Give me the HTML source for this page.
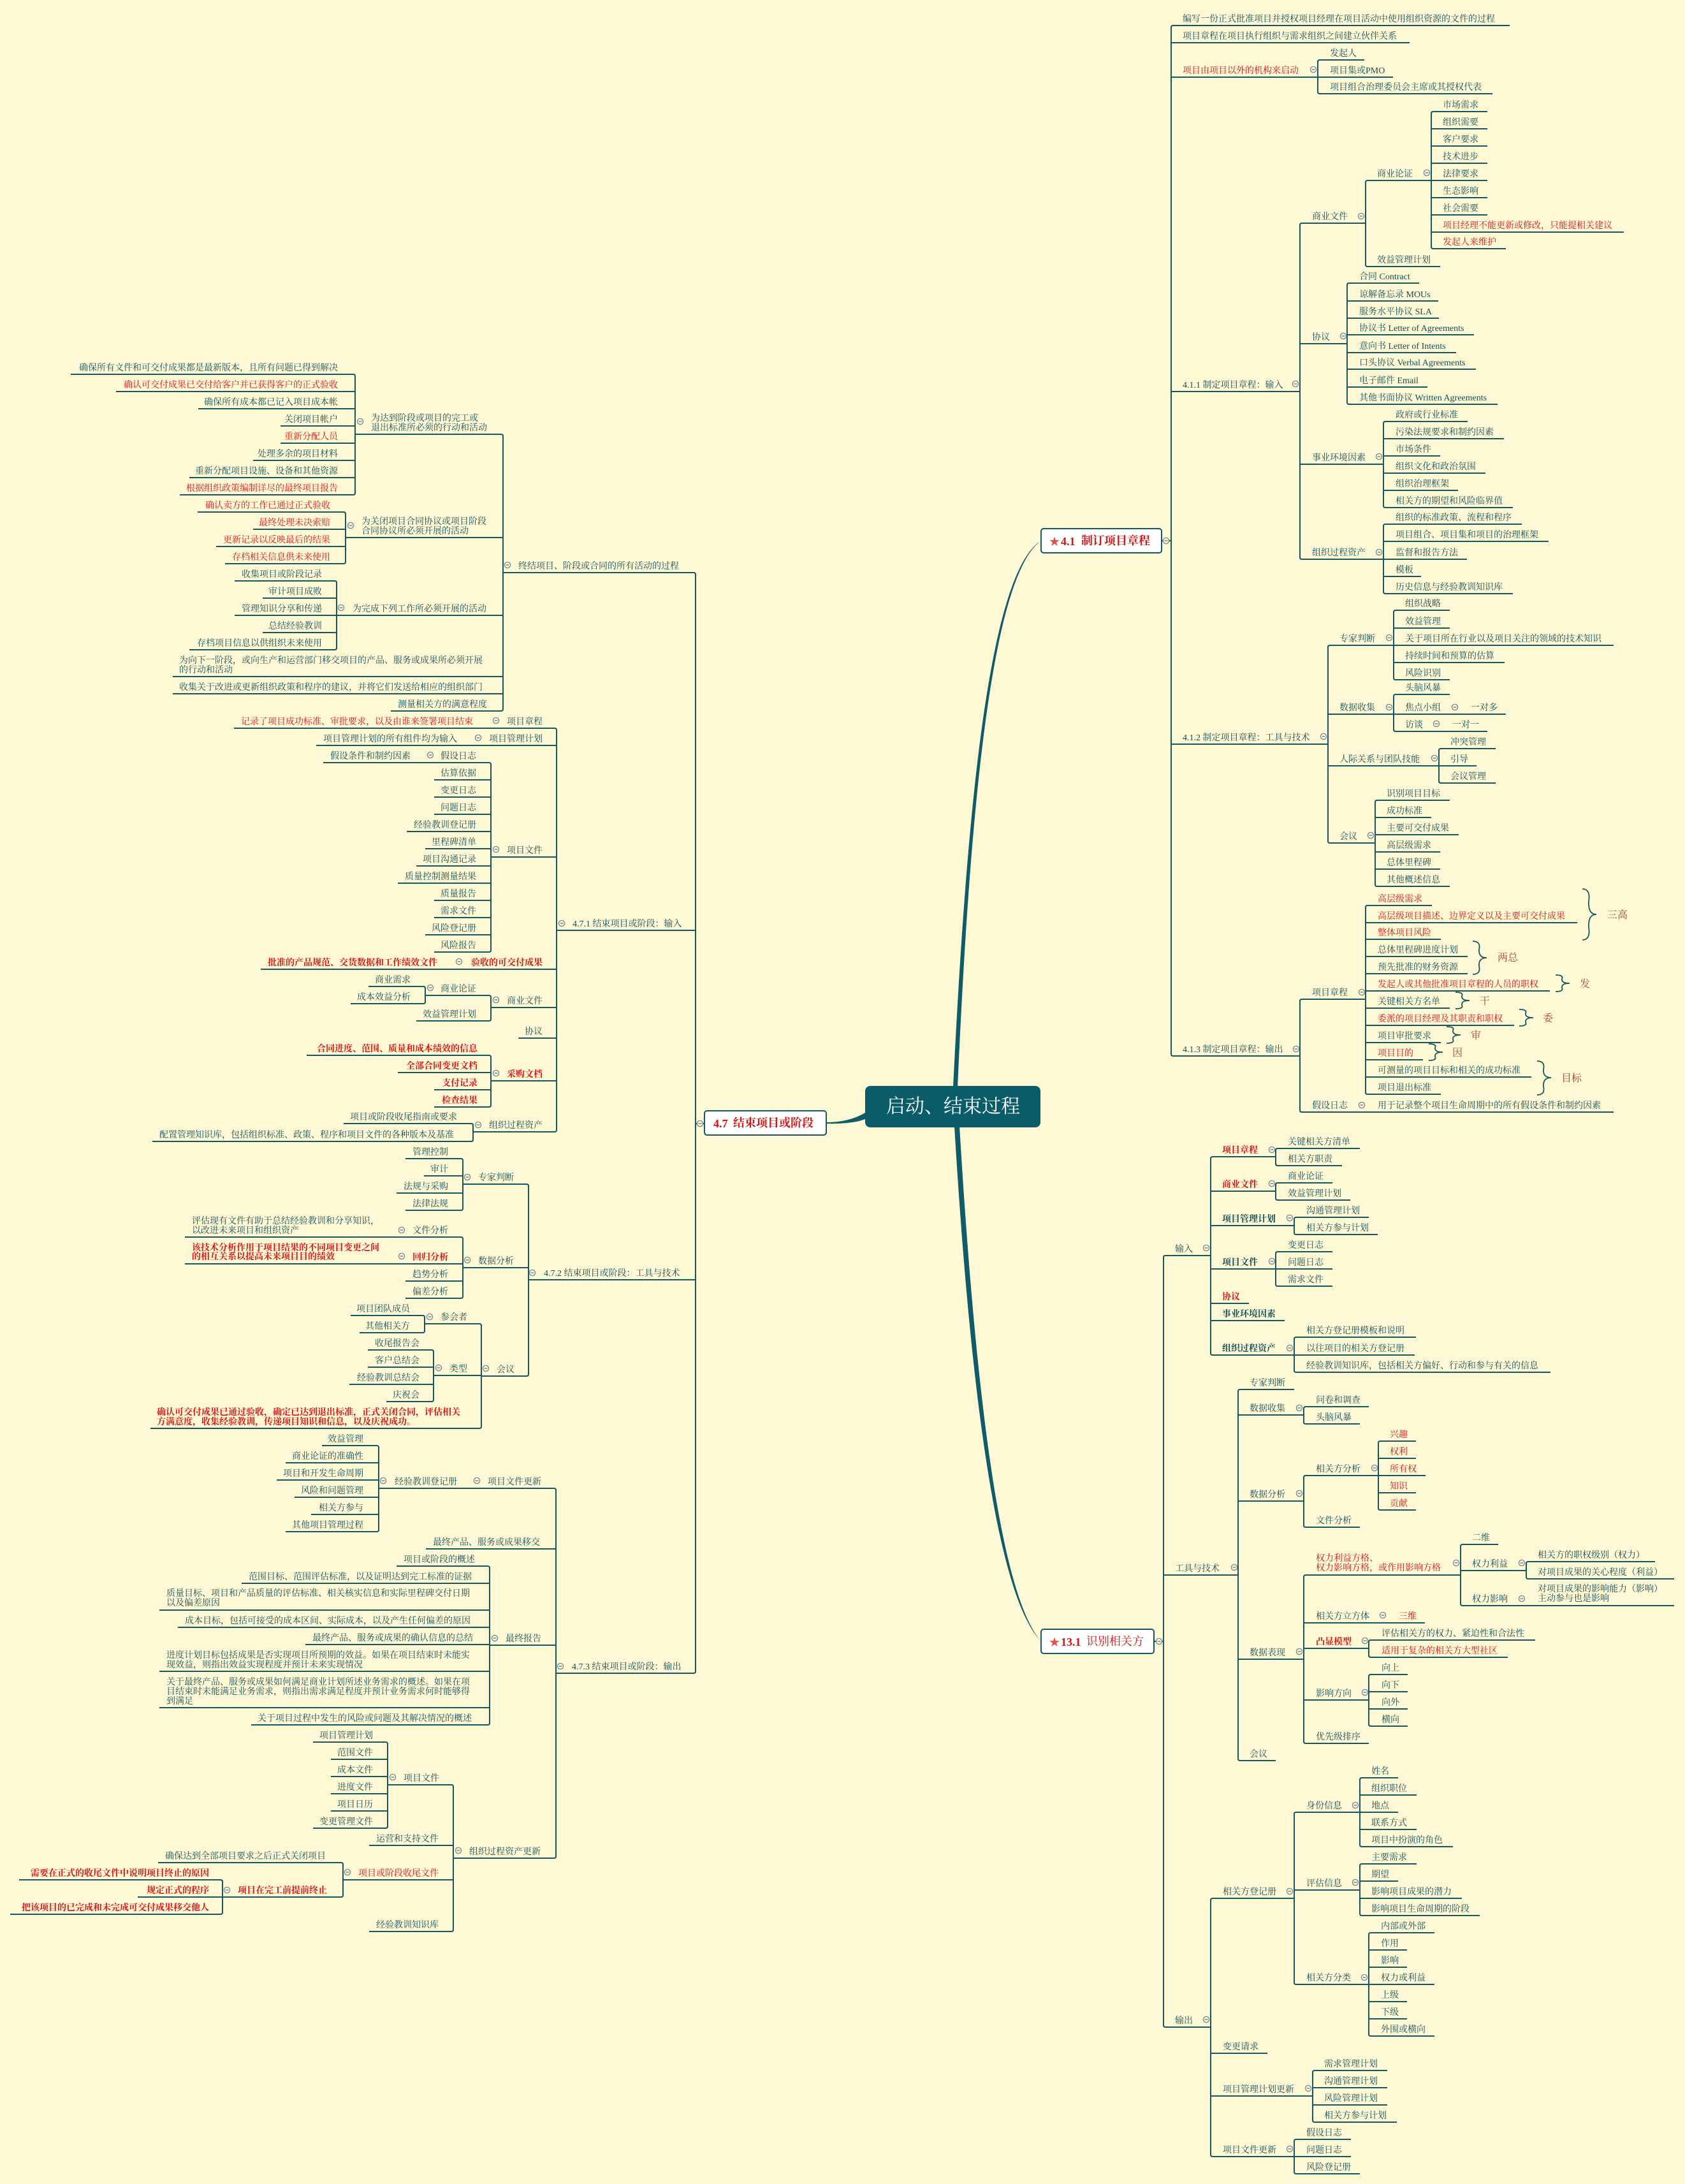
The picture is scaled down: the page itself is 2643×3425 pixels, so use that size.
<!DOCTYPE html>
<html><head><meta charset="utf-8"><style>
html,body{margin:0;padding:0;background:#fff8d5}
svg{display:block}
text{font-family:"Liberation Serif","Noto Serif CJK SC",serif;font-size:14px;fill:#104f58}
.e text,text.e{text-anchor:end}
.r,.r text{fill:#e01010}
.b,.b text{font-weight:bold}
.l text{font-size:16px;fill:#a8452e}
.t{font-size:30px;fill:#fff;text-anchor:middle}
.n{font-size:18px;fill:#e01010;font-weight:bold}
</style></head><body>
<svg xmlns="http://www.w3.org/2000/svg" width="2643" height="3425" viewBox="0 0 2643 3425">
<defs><g id="m"><circle r="4.6" fill="#fff8d5" stroke="#6d8a9a" stroke-width="1.3"/><path d="M-2.5 0H2.5" stroke="#55707f" stroke-width="1.2"/></g></defs>
<rect width="2643" height="3425" fill="#fff8d5"/>

<!-- central connectors -->
<path fill="#0e5c68" d="M1495 1705C1515 1300 1548 900 1633 848C1552 905 1520 1300 1502 1705ZM1497 1766C1520 2150 1560 2500 1633 2574C1565 2497 1528 2150 1505 1766ZM1357 1745C1340 1755 1320 1760 1296 1760V1762C1320 1763 1345 1760 1357 1755Z"/>

<!-- lines -->
<path fill="none" stroke="#14575f" stroke-width="2" d="
M1822 848H1837M1810 2574H1825M1091 1762H1105
M2368 40H1840q-3 0-3 3V1653q0 3 3 3H2039M1837 67H2211M1837 121H2067M1837 614H2039M1837 1167H2083
M2140 94H2070q-3 0-3 3V144q0 3 3 3H2341M2067 121H2185
M2142 350H2042q-3 0-3 3V874q0 3 3 3H2170M2039 539H2113M2039 728H2170
M2245 283H2145q-3 0-3 3V415q0 3 3 3H2259
M2333 175H2248q-3 0-3 3V387q0 3 3 3H2362M2245 202H2333M2245 229H2333M2245 256H2333M2245 283H2333M2245 310H2333M2245 337H2333M2245 364H2547
M2226 444H2116q-3 0-3 3V631q0 3 3 3H2349M2113 472H2256M2113 499H2257M2113 525H2312M2113 553H2284M2113 579H2315M2113 607H2239
M2302 661H2173q-3 0-3 3V793q0 3 3 3H2373M2170 688H2359M2170 715H2259M2170 742H2330M2170 769H2287
M2387 822H2173q-3 0-3 3V928q0 3 3 3H2373M2170 849H2429M2170 877H2301M2170 904H2229
M2186 1012H2086q-3 0-3 3V1319q0 3 3 3H2157M2083 1120H2186M2083 1201H2257
M2274 957H2189q-3 0-3 3V1063q0 3 3 3H2274M2186 985H2274M2186 1012H2531M2186 1039H2360
M2274 1089H2189q-3 0-3 3V1144q0 3 3 3H2333M2186 1120H2362
M2346 1174H2260q-3 0-3 3V1225q0 3 3 3H2346M2257 1201H2316
M2274 1255H2160q-3 0-3 3V1387q0 3 3 3H2274M2157 1282H2245M2157 1309H2288M2157 1336H2259M2157 1363H2259
M2142 1567H2042q-3 0-3 3V1741q0 3 3 3H2531
M2246 1420H2145q-3 0-3 3V1713q0 3 3 3H2260M2142 1447H2474M2142 1473H2260M2142 1500H2302M2142 1527H2302M2142 1554H2431M2142 1581H2274M2142 1608H2375M2142 1635H2260M2142 1662H2232M2142 1689H2402
M1899 1969H1828q-3 0-3 3V3176q0 3 3 3H1899M1825 2470H1942
M2001 1814H1902q-3 0-3 3V2122q0 3 3 3H2030M1899 1868H2001M1899 1922H2030M1899 1990H2001M1899 2044H1959M1899 2071H2015
M2133 1801H2004q-3 0-3 3V1825q0 3 3 3H2105
M2090 1855H2004q-3 0-3 3V1879q0 3 3 3H2118
M2147 1909H2033q-3 0-3 3V1933q0 3 3 3H2161
M2090 1963H2004q-3 0-3 3V2014q0 3 3 3H2090M2001 1990H2090
M2221 2097H2033q-3 0-3 3V2149q0 3 3 3H2432M2030 2125H2219
M2030 2179H1945q-3 0-3 3V2758q0 3 3 3H2001M1942 2219H2045M1942 2354H2045M1942 2602H2045
M2147 2206H2048q-3 0-3 3V2230q0 3 3 3H2133
M2162 2314H2048q-3 0-3 3V2392q0 3 3 3H2133
M2221 2260H2165q-3 0-3 3V2365q0 3 3 3H2221M2162 2287H2221M2162 2314H2236M2162 2341H2221
M2291 2470H2048q-3 0-3 3V2731q0 3 3 3H2147M2045 2545H2235M2045 2585H2147M2045 2666H2147
M2350 2422H2294q-3 0-3 3V2515q0 3 3 3H2626M2291 2463H2394
M2596 2449H2397q-3 0-3 3V2473q0 3 3 3H2626
M2408 2572H2150q-3 0-3 3V2596q0 3 3 3H2365
M2208 2626H2150q-3 0-3 3V2704q0 3 3 3H2208M2147 2653H2208M2147 2680H2208
M2030 2977H1902q-3 0-3 3V3379q0 3 3 3H2030M1899 3220H1988M1899 3287H2059
M2133 2842H2033q-3 0-3 3V3109q0 3 3 3H2147M2030 2964H2133
M2193 2788H2136q-3 0-3 3V2893q0 3 3 3H2279M2133 2815H2222M2133 2842H2193M2133 2869H2222
M2222 2923H2136q-3 0-3 3V3001q0 3 3 3H2321M2133 2950H2193M2133 2977H2293
M2250 3031H2150q-3 0-3 3V3190q0 3 3 3H2250M2147 3058H2207M2147 3085H2207M2147 3112H2250M2147 3139H2207M2147 3166H2207
M2176 3247H2062q-3 0-3 3V3325q0 3 3 3H2191M2059 3274H2176M2059 3301H2176
M2119 3355H2033q-3 0-3 3V3406q0 3 3 3H2133M2030 3382H2119
M789 898H1088q3 0 3 3V2621q0 3-3 3H872M1091 1459H873M1091 2007H829
M557 681H786q3 0 3 3V1112q0 3-3 3H613M789 843H542M789 965H528M789 1061H271M789 1088H271
M111 587H554q3 0 3 3V773q0 3-3 3H282M557 614H182M557 641H311M557 668H440M557 695H440M557 722H397M557 749H297
M310 803H539q3 0 3 3V881q0 3-3 3H353M542 830H397M542 857H339
M368 911H525q3 0 3 3V1016q0 3-3 3H297M528 938H412M528 965H368M528 992H412
M367 1142H870q3 0 3 3V1772q0 3-3 3H742M873 1169H496M873 1344H770M873 1520H409M873 1580H770M873 1628H813M873 1695H770
M507 1196H767q3 0 3 3V1490q0 3-3 3H681M770 1223H681M770 1250H681M770 1277H681M770 1304H638M770 1331H667M770 1358H653M770 1385H624M770 1412H681M770 1439H681M770 1466H667
M667 1561H767q3 0 3 3V1598q0 3-3 3H653
M578 1547H664q3 0 3 3V1571q0 3-3 3H550
M481 1655H767q3 0 3 3V1733q0 3-3 3H681M770 1682H624M770 1709H681
M539 1762H739q3 0 3 3V1787q0 3-3 3H239
M726 1857H826q3 0 3 3V2155q0 3-3 3H755M829 1988H726
M636 1817H723q3 0 3 3V1895q0 3-3 3H636M726 1844H665M726 1871H622
M290 1940H723q3 0 3 3V2033q0 3-3 3H636M726 1982H290M726 2009H636
M666 2076H752q3 0 3 3V2237q0 3-3 3H236M755 2157H680
M550 2063H663q3 0 3 3V2087q0 3-3 3H564
M577 2117H677q3 0 3 3V2195q0 3-3 3H606M680 2144H577M680 2171H548
M594 2334H869q3 0 3 3V2911q0 3-3 3H711M872 2429H668M872 2580H768
M505 2267H591q3 0 3 3V2399q0 3-3 3H448M594 2294H448M594 2321H434M594 2348H462M594 2375H488
M622 2456H765q3 0 3 3V2702q0 3-3 3H394M768 2483H379M768 2525H250M768 2552H279M768 2579H479M768 2621H250M768 2678H250
M608 2799H708q3 0 3 3V3026q0 3-3 3H579M711 2894H579M711 2948H538
M491 2732H605q3 0 3 3V2864q0 3-3 3H491M608 2759H519M608 2786H519M608 2813H519M608 2840H519
M248 2921H535q3 0 3 3V2972q0 3-3 3H349
M30 2948H346q3 0 3 3V2999q0 3-3 3H16M349 2975H216
"/>

<!-- braces -->
<path fill="none" stroke="#14575f" stroke-width="1.8" d="
M2482 1394Q2495 1394 2492 1414Q2491 1434 2504 1434Q2491 1434 2492 1454Q2495 1474 2482 1474
M2310 1476Q2323 1476 2320 1489Q2319 1502 2332 1502Q2319 1502 2320 1515Q2323 1528 2310 1528
M2440 1529Q2453 1529 2450 1535Q2449 1542 2462 1542Q2449 1542 2450 1549Q2453 1555 2440 1555
M2283 1556Q2296 1556 2293 1562Q2292 1569 2305 1569Q2292 1569 2293 1576Q2296 1582 2283 1582
M2383 1583Q2396 1583 2393 1589Q2392 1596 2405 1596Q2392 1596 2393 1603Q2396 1609 2383 1609
M2269 1610Q2282 1610 2279 1616Q2278 1623 2291 1623Q2278 1623 2279 1630Q2282 1636 2269 1636
M2241 1637Q2254 1637 2251 1643Q2250 1650 2263 1650Q2250 1650 2251 1657Q2254 1663 2241 1663
M2411 1664Q2424 1664 2421 1677Q2420 1690 2433 1690Q2420 1690 2421 1704Q2424 1717 2411 1717
"/>
<g class="l">
<text x="2521" y="1440">三高</text><text x="2349" y="1507">两总</text><text x="2478" y="1548">发</text><text x="2321" y="1575">干</text><text x="2420" y="1602">委</text><text x="2307" y="1629">审</text><text x="2278" y="1656">因</text><text x="2449" y="1696">目标</text>
</g>

<!-- main nodes -->
<rect x="1357" y="1703" width="275" height="65" rx="8" fill="#0a5c68"/>
<text class="t" x="1495" y="1745">启动、结束过程</text>
<rect x="1105" y="1742" width="191" height="38" rx="4" fill="#fff" stroke="#14575f" stroke-width="2"/>
<text class="n" x="1119" y="1768">4.7</text><text class="n" x="1150" y="1767">结束项目或阶段</text>
<rect x="1633" y="829" width="189" height="38" rx="4" fill="#fff" stroke="#14575f" stroke-width="2"/>
<text x="1645" y="856" style="font-family:'DejaVu Sans',sans-serif;font-size:20px;fill:#e05050">★</text>
<text class="n" x="1664" y="855">4.1</text><text class="n" x="1696" y="854">制订项目章程</text>
<rect x="1633" y="2555" width="177" height="38" rx="4" fill="#fff" stroke="#14575f" stroke-width="2"/>
<text x="1645" y="2582" style="font-family:'DejaVu Sans',sans-serif;font-size:20px;fill:#e05050">★</text>
<text class="n" x="1664" y="2581">13.1</text><text class="n" x="1704" y="2580" style="font-weight:normal">识别相关方</text>

<!-- 4.1 text -->
<text x="1855" y="34">编写一份正式批准项目并授权项目经理在项目活动中使用组织资源的文件的过程</text>
<text x="1855" y="61">项目章程在项目执行组织与需求组织之间建立伙伴关系</text>
<text class="r" x="1855" y="115">项目由项目以外的机构来启动</text>
<text x="2086" y="88">发起人</text><text x="2086" y="115">项目集或PMO</text><text x="2086" y="141">项目组合治理委员会主席或其授权代表</text>
<text x="1855" y="608">4.1.1 制定项目章程：输入</text>
<text x="2058" y="344">商业文件</text><text x="2058" y="533">协议</text><text x="2058" y="722">事业环境因素</text><text x="2058" y="871">组织过程资产</text>
<text x="2160" y="277">商业论证</text><text x="2160" y="412">效益管理计划</text>
<text x="2263" y="169">市场需求</text><text x="2263" y="196">组织需要</text><text x="2263" y="223">客户要求</text><text x="2263" y="250">技术进步</text><text x="2263" y="277">法律要求</text><text x="2263" y="304">生态影响</text><text x="2263" y="331">社会需要</text>
<text class="r" x="2263" y="358">项目经理不能更新或修改，只能提相关建议</text><text class="r" x="2263" y="384">发起人来维护</text>
<text x="2132" y="438">合同 Contract</text><text x="2132" y="466">谅解备忘录 MOUs</text><text x="2132" y="493">服务水平协议 SLA</text><text x="2132" y="519">协议书 Letter of Agreements</text><text x="2132" y="547">意向书 Letter of Intents</text><text x="2132" y="573">口头协议 Verbal Agreements</text><text x="2132" y="601">电子邮件 Email</text><text x="2132" y="628">其他书面协议 Written Agreements</text>
<text x="2189" y="655">政府或行业标准</text><text x="2189" y="682">污染法规要求和制约因素</text><text x="2189" y="709">市场条件</text><text x="2189" y="736">组织文化和政治氛围</text><text x="2189" y="763">组织治理框架</text><text x="2189" y="790">相关方的期望和风险临界值</text>
<text x="2189" y="816">组织的标准政策、流程和程序</text><text x="2189" y="843">项目组合、项目集和项目的治理框架</text><text x="2189" y="871">监督和报告方法</text><text x="2189" y="898">模板</text><text x="2189" y="925">历史信息与经验教训知识库</text>
<text x="1855" y="1161">4.1.2 制定项目章程：工具与技术</text>
<text x="2101" y="1006">专家判断</text><text x="2101" y="1114">数据收集</text><text x="2101" y="1195">人际关系与团队技能</text><text x="2101" y="1316">会议</text>
<text x="2204" y="951">组织战略</text><text x="2204" y="979">效益管理</text><text x="2204" y="1006">关于项目所在行业以及项目关注的领域的技术知识</text><text x="2204" y="1033">持续时间和预算的估算</text><text x="2204" y="1060">风险识别</text>
<text x="2204" y="1083">头脑风暴</text><text x="2204" y="1114">焦点小组</text><text x="2204" y="1141">访谈</text><text x="2307" y="1114">一对多</text><text x="2278" y="1141">一对一</text>
<text x="2275" y="1168">冲突管理</text><text x="2275" y="1195">引导</text><text x="2275" y="1222">会议管理</text>
<text x="2175" y="1249">识别项目目标</text><text x="2175" y="1276">成功标准</text><text x="2175" y="1303">主要可交付成果</text><text x="2175" y="1330">高层级需求</text><text x="2175" y="1357">总体里程碑</text><text x="2175" y="1384">其他概述信息</text>
<text x="1855" y="1650">4.1.3 制定项目章程：输出</text>
<text x="2058" y="1561">项目章程</text><text x="2058" y="1738">假设日志</text><text x="2161" y="1738">用于记录整个项目生命周期中的所有假设条件和制约因素</text>
<text class="r" x="2161" y="1414">高层级需求</text><text class="r" x="2161" y="1441">高层级项目描述、边界定义以及主要可交付成果</text><text class="r" x="2161" y="1467">整体项目风险</text><text x="2161" y="1494">总体里程碑进度计划</text><text x="2161" y="1521">预先批准的财务资源</text><text class="r" x="2161" y="1548">发起人或其他批准项目章程的人员的职权</text><text x="2161" y="1575">关键相关方名单</text><text class="r" x="2161" y="1602">委派的项目经理及其职责和职权</text><text x="2161" y="1629">项目审批要求</text><text class="r" x="2161" y="1656">项目目的</text><text x="2161" y="1683">可测量的项目目标和相关的成功标准</text><text x="2161" y="1710">项目退出标准</text>

<!-- 13.1 text -->
<text x="1843" y="1963">输入</text><text x="1843" y="2464">工具与技术</text><text x="1843" y="3173">输出</text>
<g class="b"><text class="r" x="1917" y="1808">项目章程</text><text class="r" x="1917" y="1862">商业文件</text><text x="1917" y="1916">项目管理计划</text><text x="1917" y="1984">项目文件</text><text class="r" x="1917" y="2038">协议</text><text x="1917" y="2065">事业环境因素</text><text x="1917" y="2119">组织过程资产</text></g>
<text x="2020" y="1795">关键相关方清单</text><text x="2020" y="1822">相关方职责</text><text x="2020" y="1849">商业论证</text><text x="2020" y="1876">效益管理计划</text>
<text x="2049" y="1903">沟通管理计划</text><text x="2049" y="1930">相关方参与计划</text>
<text x="2020" y="1957">变更日志</text><text x="2020" y="1984">问题日志</text><text x="2020" y="2011">需求文件</text>
<text x="2049" y="2091">相关方登记册模板和说明</text><text x="2049" y="2119">以往项目的相关方登记册</text><text x="2049" y="2146">经验教训知识库，包括相关方偏好、行动和参与有关的信息</text>
<text x="1960" y="2173">专家判断</text><text x="1960" y="2213">数据收集</text><text x="1960" y="2348">数据分析</text><text x="1960" y="2596">数据表现</text><text x="1960" y="2755">会议</text>
<text x="2064" y="2200">问卷和调查</text><text x="2064" y="2227">头脑风暴</text><text x="2064" y="2308">相关方分析</text><text x="2064" y="2389">文件分析</text>
<g class="r"><text x="2180" y="2254">兴趣</text><text x="2180" y="2281">权利</text><text x="2180" y="2308">所有权</text><text x="2180" y="2335">知识</text><text x="2180" y="2362">贡献</text>
<text x="2064" y="2448">权力利益方格、</text><text x="2064" y="2463">权力影响方格，或作用影响方格</text><text x="2194" y="2539">三维</text><text class="b" x="2064" y="2579">凸显模型</text><text x="2167" y="2593">适用于复杂的相关方大型社区</text></g>
<text x="2064" y="2539">相关方立方体</text><text x="2064" y="2660">影响方向</text><text x="2064" y="2728">优先级排序</text>
<text x="2309" y="2416">二维</text><text x="2309" y="2457">权力利益</text><text x="2309" y="2512">权力影响</text>
<text x="2412" y="2443">相关方的职权级别（权力）</text><text x="2412" y="2470">对项目成果的关心程度（利益）</text><text x="2412" y="2496">对项目成果的影响能力（影响）</text><text x="2412" y="2511">主动参与也是影响</text>
<text x="2167" y="2566">评估相关方的权力、紧迫性和合法性</text><text x="2167" y="2620">向上</text><text x="2167" y="2647">向下</text><text x="2167" y="2674">向外</text><text x="2167" y="2701">横向</text>
<text x="1918" y="2971">相关方登记册</text><text x="1918" y="3214">变更请求</text><text x="1918" y="3281">项目管理计划更新</text><text x="1918" y="3376">项目文件更新</text>
<text x="2049" y="2836">身份信息</text><text x="2049" y="2958">评估信息</text><text x="2049" y="3106">相关方分类</text>
<text x="2151" y="2782">姓名</text><text x="2151" y="2809">组织职位</text><text x="2151" y="2836">地点</text><text x="2151" y="2863">联系方式</text><text x="2151" y="2890">项目中扮演的角色</text>
<text x="2151" y="2917">主要需求</text><text x="2151" y="2944">期望</text><text x="2151" y="2971">影响项目成果的潜力</text><text x="2151" y="2998">影响项目生命周期的阶段</text>
<text x="2166" y="3025">内部或外部</text><text x="2166" y="3052">作用</text><text x="2166" y="3079">影响</text><text x="2166" y="3106">权力或利益</text><text x="2166" y="3133">上级</text><text x="2166" y="3160">下级</text><text x="2166" y="3187">外围或横向</text>
<text x="2077" y="3241">需求管理计划</text><text x="2077" y="3268">沟通管理计划</text><text x="2077" y="3295">风险管理计划</text><text x="2077" y="3322">相关方参与计划</text>
<text x="2049" y="3349">假设日志</text><text x="2049" y="3376">问题日志</text><text x="2049" y="3403">风险登记册</text>

<!-- 4.7 text -->
<text x="813" y="892">终结项目、阶段或合同的所有活动的过程</text>
<text x="582" y="660">为达到阶段或项目的完工或</text><text x="582" y="675">退出标准所必须的行动和活动</text>
<g class="e"><text x="530" y="581">确保所有文件和可交付成果都是最新版本，且所有问题已得到解决</text><text class="r" x="530" y="608">确认可交付成果已交付给客户并已获得客户的正式验收</text><text x="530" y="635">确保所有成本都已记入项目成本帐</text><text x="530" y="662">关闭项目帐户</text><text class="r" x="530" y="689">重新分配人员</text><text x="530" y="716">处理多余的项目材料</text><text x="530" y="743">重新分配项目设施、设备和其他资源</text><text class="r" x="530" y="770">根据组织政策编制详尽的最终项目报告</text></g>
<text x="567" y="822">为关闭项目合同协议或项目阶段</text><text x="567" y="837">合同协议所必须开展的活动</text>
<g class="e r"><text x="518" y="797">确认卖方的工作已通过正式验收</text><text x="518" y="824">最终处理未决索赔</text><text x="518" y="851">更新记录以反映最后的结果</text><text x="518" y="878">存档相关信息供未来使用</text></g>
<text x="553" y="959">为完成下列工作所必须开展的活动</text>
<g class="e"><text x="505" y="905">收集项目或阶段记录</text><text x="505" y="932">审计项目成败</text><text x="505" y="959">管理知识分享和传递</text><text x="505" y="986">总结经验教训</text><text x="505" y="1013">存档项目信息以供组织未来使用</text></g>
<text x="281" y="1040">为向下一阶段，或向生产和运营部门移交项目的产品、服务或成果所必须开展</text><text x="281" y="1055">的行动和活动</text><text x="281" y="1082">收集关于改进或更新组织政策和程序的建议，并将它们发送给相应的组织部门</text>
<text x="624" y="1109">测量相关方的满意程度</text>
<text x="898" y="1453">4.7.1 结束项目或阶段：输入</text>
<g class="e"><text x="851" y="1136">项目章程</text><text x="851" y="1163">项目管理计划</text><text x="851" y="1338">项目文件</text><text class="r b" x="851" y="1514">验收的可交付成果</text><text x="851" y="1574">商业文件</text><text x="851" y="1622">协议</text><text class="r b" x="851" y="1689">采购文档</text><text x="851" y="1769">组织过程资产</text></g>
<text class="r" x="378" y="1136">记录了项目成功标准、审批要求，以及由谁来签署项目结束</text>
<text x="507" y="1163">项目管理计划的所有组件均为输入</text>
<g class="e"><text x="747" y="1190">假设日志</text><text x="747" y="1217">估算依据</text><text x="747" y="1244">变更日志</text><text x="747" y="1271">问题日志</text><text x="747" y="1298">经验教训登记册</text><text x="747" y="1325">里程碑清单</text><text x="747" y="1352">项目沟通记录</text><text x="747" y="1379">质量控制测量结果</text><text x="747" y="1406">质量报告</text><text x="747" y="1433">需求文件</text><text x="747" y="1460">风险登记册</text><text x="747" y="1487">风险报告</text>
<text x="747" y="1555">商业论证</text><text x="747" y="1595">效益管理计划</text><text x="644" y="1541">商业需求</text><text x="644" y="1568">成本效益分析</text><text x="717" y="1756">项目或阶段收尾指南或要求</text></g>
<text x="518" y="1190">假设条件和制约因素</text>
<text class="r b" x="420" y="1514">批准的产品规范、交货数据和工作绩效文件</text>
<g class="e r b"><text x="749" y="1649">合同进度、范围、质量和成本绩效的信息</text><text x="749" y="1676">全部合同变更文档</text><text x="749" y="1703">支付记录</text><text x="749" y="1730">检查结果</text></g>
<text x="250" y="1784">配置管理知识库，包括组织标准、政策、程序和项目文件的各种版本及基准</text>
<text x="853" y="2001">4.7.2 结束项目或阶段：工具与技术</text>
<text x="750" y="1851">专家判断</text><text x="750" y="1982">数据分析</text><text x="779" y="2152">会议</text>
<g class="e"><text x="703" y="1811">管理控制</text><text x="703" y="1838">审计</text><text x="703" y="1865">法规与采购</text><text x="703" y="1892">法律法规</text><text x="703" y="1934">文件分析</text><text class="r b" x="703" y="1976">回归分析</text><text x="703" y="2003">趋势分析</text><text x="703" y="2030">偏差分析</text>
<text x="643" y="2057">项目团队成员</text><text x="643" y="2084">其他相关方</text><text x="658" y="2111">收尾报告会</text><text x="658" y="2138">客户总结会</text><text x="658" y="2165">经验教训总结会</text><text x="658" y="2192">庆祝会</text></g>
<text x="301" y="1919">评估现有文件有助于总结经验教训和分享知识，</text><text x="301" y="1934">以改进未来项目和组织资产</text>
<g class="r b"><text x="301" y="1961">该技术分析作用于项目结果的不同项目变更之间</text><text x="301" y="1975">的相互关系以提高未来项目目的绩效</text>
<text x="246" y="2219">确认可交付成果已通过验收，确定已达到退出标准，正式关闭合同，评估相关</text><text x="246" y="2234">方满意度，收集经验教训，传递项目知识和信息，以及庆祝成功。</text></g>
<text x="691" y="2070">参会者</text><text x="705" y="2151">类型</text>
<text x="897" y="2618">4.7.3 结束项目或阶段：输出</text>
<text x="765" y="2328">项目文件更新</text><text x="619" y="2328">经验教训登记册</text><text x="679" y="2423">最终产品、服务或成果移交</text><text x="793" y="2574">最终报告</text>
<g class="e"><text x="570" y="2261">效益管理</text><text x="570" y="2288">商业论证的准确性</text><text x="570" y="2315">项目和开发生命周期</text><text x="570" y="2342">风险和问题管理</text><text x="570" y="2369">相关方参与</text><text x="570" y="2396">其他项目管理过程</text></g>
<text x="633" y="2450">项目或阶段的概述</text><text x="390" y="2477">范围目标、范围评估标准，以及证明达到完工标准的证据</text>
<text x="261" y="2503">质量目标、项目和产品质量的评估标准、相关核实信息和实际里程碑交付日期</text><text x="261" y="2518">以及偏差原因</text>
<text x="290" y="2546">成本目标，包括可接受的成本区间、实际成本，以及产生任何偏差的原因</text><text x="490" y="2573">最终产品、服务或成果的确认信息的总结</text>
<text x="261" y="2600">进度计划目标包括成果是否实现项目所预期的效益。如果在项目结束时未能实</text><text x="261" y="2615">现效益，则指出效益实现程度并预计未来实现情况</text>
<text x="261" y="2642">关于最终产品、服务或成果如何满足商业计划所述业务需求的概述。如果在项</text><text x="261" y="2657">目结束时未能满足业务需求，则指出需求满足程度并预计业务需求何时能够得</text><text x="261" y="2672">到满足</text>
<text x="404" y="2699">关于项目过程中发生的风险或问题及其解决情况的概述</text>
<text x="736" y="2908">组织过程资产更新</text><text x="633" y="2793">项目文件</text><text x="590" y="2888">运营和支持文件</text><text class="r" x="562" y="2942">项目或阶段收尾文件</text><text x="590" y="3023">经验教训知识库</text>
<g class="e"><text x="585" y="2726">项目管理计划</text><text x="585" y="2753">范围文件</text><text x="585" y="2780">成本文件</text><text x="585" y="2807">进度文件</text><text x="585" y="2834">项目日历</text><text x="585" y="2861">变更管理文件</text></g>
<text x="259" y="2915">确保达到全部项目要求之后正式关闭项目</text><text class="r b" x="373" y="2969">项目在完工前提前终止</text>
<g class="e r b"><text x="328" y="2942">需要在正式的收尾文件中说明项目终止的原因</text><text x="328" y="2969">规定正式的程序</text><text x="328" y="2996">把该项目的已完成和未完成可交付成果移交他人</text></g>

<!-- collapse markers -->
<use href="#m" x="1829" y="848"/><use href="#m" x="1818" y="2574"/><use href="#m" x="1098" y="1762"/>
<use href="#m" x="2060" y="109"/><use href="#m" x="2032" y="602"/><use href="#m" x="2135" y="339"/><use href="#m" x="2107" y="527"/><use href="#m" x="2163" y="716"/><use href="#m" x="2163" y="866"/><use href="#m" x="2238" y="271"/>
<use href="#m" x="2076" y="1155"/><use href="#m" x="2179" y="1000"/><use href="#m" x="2179" y="1109"/><use href="#m" x="2250" y="1189"/><use href="#m" x="2150" y="1310"/><use href="#m" x="2282" y="1109"/><use href="#m" x="2253" y="1135"/>
<use href="#m" x="2033" y="1645"/><use href="#m" x="2136" y="1556"/><use href="#m" x="2136" y="1733"/>
<use href="#m" x="1892" y="1957"/><use href="#m" x="1936" y="2458"/><use href="#m" x="1892" y="3167"/>
<use href="#m" x="1995" y="1803"/><use href="#m" x="1995" y="1856"/><use href="#m" x="2023" y="1910"/><use href="#m" x="1995" y="1978"/><use href="#m" x="2023" y="2114"/>
<use href="#m" x="2038" y="2208"/><use href="#m" x="2038" y="2342"/><use href="#m" x="2038" y="2590"/><use href="#m" x="2156" y="2302"/>
<use href="#m" x="2284" y="2451"/><use href="#m" x="2169" y="2533"/><use href="#m" x="2141" y="2573"/><use href="#m" x="2141" y="2654"/><use href="#m" x="2387" y="2451"/><use href="#m" x="2387" y="2507"/>
<use href="#m" x="2023" y="2966"/><use href="#m" x="2052" y="3275"/><use href="#m" x="2023" y="3370"/><use href="#m" x="2126" y="2831"/><use href="#m" x="2126" y="2952"/><use href="#m" x="2140" y="3101"/>
<use href="#m" x="796" y="886"/><use href="#m" x="565" y="661"/><use href="#m" x="550" y="824"/><use href="#m" x="535" y="953"/>
<use href="#m" x="881" y="1448"/><use href="#m" x="778" y="1130"/><use href="#m" x="750" y="1157"/><use href="#m" x="778" y="1332"/><use href="#m" x="675" y="1184"/><use href="#m" x="720" y="1508"/><use href="#m" x="778" y="1568"/><use href="#m" x="675" y="1549"/><use href="#m" x="778" y="1683"/><use href="#m" x="750" y="1764"/>
<use href="#m" x="835" y="1996"/><use href="#m" x="733" y="1846"/><use href="#m" x="733" y="1976"/><use href="#m" x="762" y="2146"/><use href="#m" x="630" y="1929"/><use href="#m" x="630" y="1970"/><use href="#m" x="674" y="2065"/><use href="#m" x="688" y="2145"/>
<use href="#m" x="879" y="2613"/><use href="#m" x="748" y="2322"/><use href="#m" x="601" y="2322"/><use href="#m" x="776" y="2569"/><use href="#m" x="719" y="2902"/><use href="#m" x="616" y="2787"/><use href="#m" x="545" y="2936"/><use href="#m" x="356" y="2964"/>
</svg>
</body></html>
